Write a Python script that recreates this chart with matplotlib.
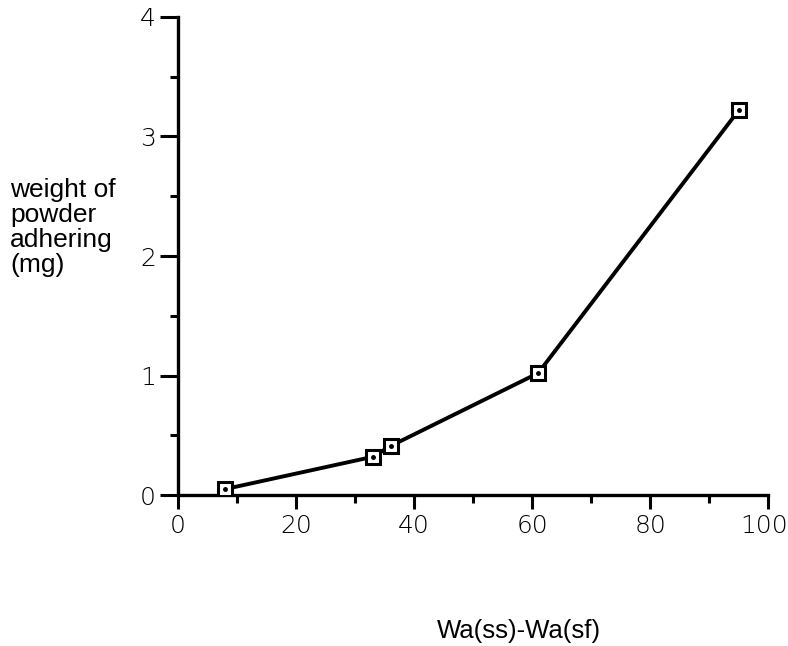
import numpy as np
import matplotlib
matplotlib.use("Agg")
import matplotlib.pyplot as plt
import matplotlib.transforms as mtransforms
from matplotlib.ticker import MultipleLocator

# data
wa_diff = [8, 33, 36, 61, 95]
weight_mg = [0.05, 0.32, 0.41, 1.02, 3.22]

x_ticks = [0, 20, 40, 60, 80, 100]
y_ticks = [0, 1, 2, 3, 4]

fig = plt.figure(figsize=(7.88, 6.46), dpi=100)
ax = fig.add_axes([0.226, 0.2337, 0.749, 0.74])

ax.plot(wa_diff, weight_mg, color="black", lw=2.8, zorder=2)
ax.plot(wa_diff, weight_mg, ls="none", marker="s", ms=10.5, mfc="white",
        mec="black", mew=2.2, zorder=3)
ax.plot(wa_diff, weight_mg, ls="none", marker="o", ms=2.5, color="black", zorder=4)

ax.set_xlim(0, 100)
ax.set_ylim(0, 4)
ax.set_xticks(x_ticks)
ax.set_yticks(y_ticks)
ax.xaxis.set_minor_locator(MultipleLocator(10))
ax.yaxis.set_minor_locator(MultipleLocator(0.5))

for s in ["top", "right"]:
    ax.spines[s].set_visible(False)
for s in ["left", "bottom"]:
    ax.spines[s].set_linewidth(2.4)

ax.tick_params(axis="x", which="major", direction="out", length=10, width=2.2, pad=4)
ax.tick_params(axis="y", which="major", direction="out", length=13, width=2.2, pad=3)
ax.tick_params(which="minor", direction="out", length=6, width=2.2)
for lab in ax.get_xticklabels() + ax.get_yticklabels():
    lab.set_family("DejaVu Sans")
    lab.set_fontweight("light")
    lab.set_fontsize(18)

# keep "100" inside the canvas edge
last = ax.get_xticklabels()[-1]
last.set_transform(last.get_transform() +
                   mtransforms.ScaledTranslation(-4 / 100, 0, fig.dpi_scale_trans))

fig.text(0.013, 0.725, "weight of\npowder\nadhering\n(mg)", ha="left", va="top",
         fontsize=19, family="Liberation Sans", linespacing=1.05)
fig.text(0.659, 0.005, "Wa(ss)-Wa(sf)", ha="center", va="bottom",
         fontsize=18.5, family="Liberation Sans")

fig.savefig("out.png", dpi=100)
